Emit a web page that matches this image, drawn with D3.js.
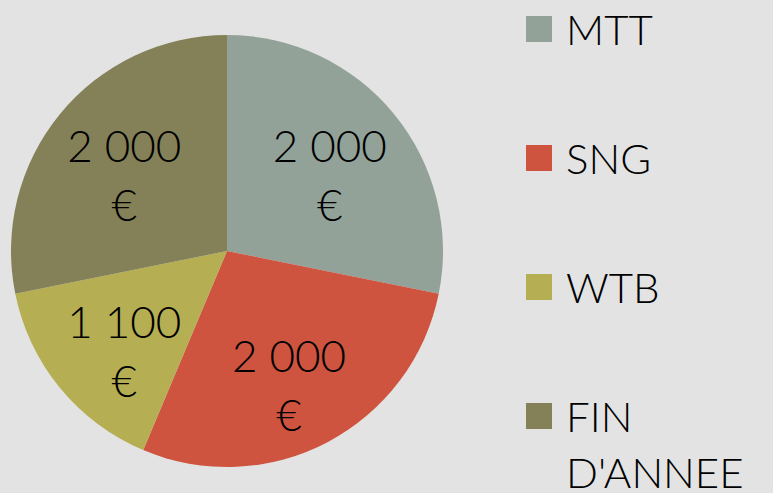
<!DOCTYPE html>
<html>
<head>
<meta charset="utf-8">
<script src="https://cdn.jsdelivr.net/npm/d3@7"></script>
<style>
  html, body { margin: 0; padding: 0; background: #e3e3e3; }
  svg { display: block; font-family: Lato, 'Noto Sans', sans-serif; font-weight: 300; }
</style>
</head>
<body>
<svg width="773" height="493"></svg>
<script>
const categories = ['MTT', 'SNG', 'WTB', "FIN D'ANNEE"]
const values = [2000, 2000, 1100, 2000]
const colors = ['#93a299', '#cf543f', '#b5ae53', '#848058']
const legendLines = [['MTT'], ['SNG'], ['WTB'], ['FIN', "D'ANNEE"]]

const svg = d3.select('svg')
const center = { x: 227, y: 251 }
const radius = 216

const data = categories.map((c, i) => ({ name: c, value: values[i], color: colors[i], lines: legendLines[i] }))

const pie = d3.pie().sort(null).value((d) => d.value) // start at 12 o'clock, clockwise
const arcs = pie(data)

const arc = d3.arc().innerRadius(0).outerRadius(radius)
const labelArc = d3.arc().innerRadius(radius * 0.64).outerRadius(radius * 0.64)

const fmt = (v) => d3.format(',')(v).replace(/,/g, ' ')

const g = svg.append('g')
  .attr('transform', 'translate(' + center.x + ',' + center.y + ')')

g.selectAll('path')
  .data(arcs)
  .join('path')
    .attr('d', arc)
    .attr('fill', (d) => d.data.color)

// value labels, wrapped on two lines like the original
const labels = g.selectAll('text.val')
  .data(arcs)
  .join('text')
    .attr('class', 'val')
    .attr('text-anchor', 'middle')
    .attr('font-size', 44)
    .attr('fill', '#000')
    .attr('transform', (d) => {
      const [x, y] = labelArc.centroid(d)
      return 'translate(' + (x * 0.96) + ',' + (y + 12) + ')'
    })

labels.append('tspan').attr('x', 0).attr('y', -13).text((d) => fmt(d.data.value))
labels.append('tspan').attr('x', 0).attr('y', 46).text('€')

// legend
const legendX = 526
const legendTop = 29
const legendStep = 129

const leg = svg.append('g')
  .selectAll('g')
  .data(data)
  .join('g')
    .attr('transform', (d, i) => 'translate(' + legendX + ',' + (legendTop + i * legendStep) + ')')

leg.append('rect')
  .attr('x', 0)
  .attr('y', -13)
  .attr('width', 26)
  .attr('height', 26)
  .attr('fill', (d) => d.color)

leg.append('text')
  .attr('font-size', 42)
  .attr('fill', '#000')
  .selectAll('tspan')
  .data((d) => d.lines)
  .join('tspan')
    .attr('x', 40)
    .attr('y', (d, i) => 16 + i * 56)
    .text((d) => d)
</script>
</body>
</html>
